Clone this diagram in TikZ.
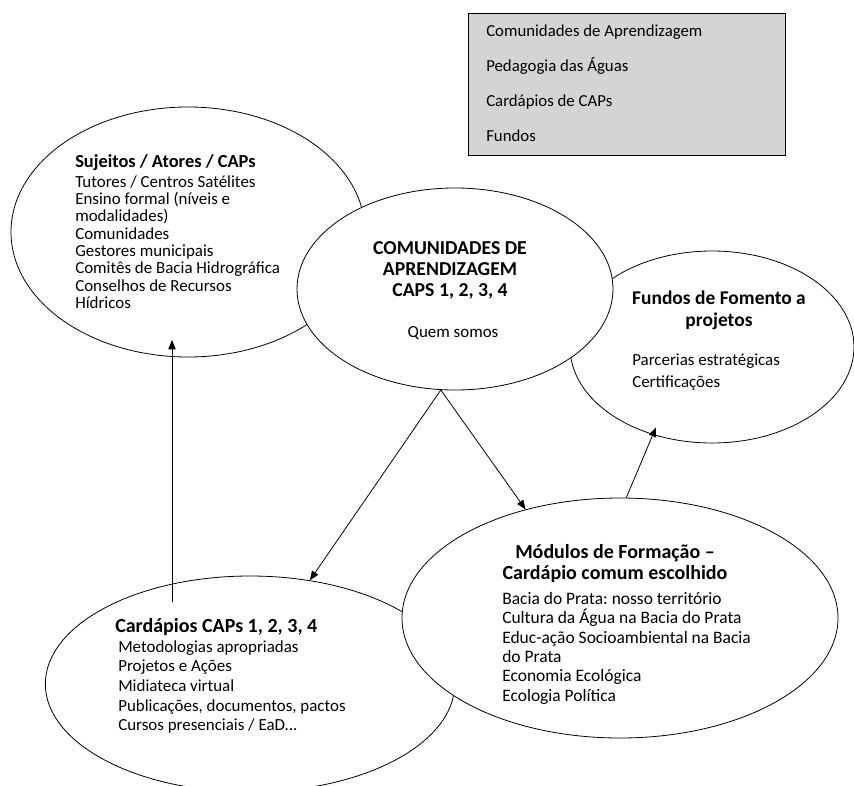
\documentclass[tikz,border=0pt]{standalone}
\usepackage{fontspec}
\setmainfont{Carlito}
\usepackage{tikz}
\usetikzlibrary{shapes.geometric,arrows.meta,calc}
\usepackage{xcolor}
\definecolor{boxgray}{RGB}{212,212,215}
\frenchspacing

\begin{document}
\begin{tikzpicture}[x=0.75pt,y=-0.75pt,
  bubble/.style={ellipse,draw,fill=white,inner sep=0pt,line width=0.6pt},
  head/.style={font=\fontsize{14.8}{15.75}\selectfont\bfseries,inner sep=0pt},
  items/.style={font=\fontsize{12.7}{13}\selectfont,inner sep=0pt,align=left},
  arr/.style={-{Triangle[length=7pt,width=5.5pt]},line width=0.6pt}]
\useasboundingbox (0,0) rectangle (854,786);
\node[draw,fill=boxgray,line width=0.8pt,anchor=north west,minimum width=237.75pt,minimum height=106.5pt] (legend) at (468,13) {};
\node[items,font=\fontsize{12.6}{26.25}\selectfont,anchor=north west] (legtxt) at (486,25) {Comunidades de Aprendizagem\\Pedagogia das Águas\\Cardápios de CAPs\\Fundos};
\node[bubble,minimum width=265.5pt,minimum height=187.5pt] (suj) at (188,232) {};
\node[bubble,minimum width=213pt,minimum height=144pt] (fund) at (712,347) {};
\node[bubble,minimum width=237pt,minimum height=151.5pt] (comu) at (455,289) {};
\node[bubble,minimum width=307pt,minimum height=162pt] (card) at (250,684) {};
\node[bubble,minimum width=327pt,minimum height=180pt] (mod) at (620,618) {};
\node[head,font=\fontsize{13.8}{15}\selectfont\bfseries,anchor=base west] (sujhead) at (75,167) {Sujeitos / Atores / CAPs};
\node[items,anchor=north west] (sujlist) at (75,175) {Tutores / Centros Satélites\\Ensino formal (níveis e\\modalidades)\\Comunidades\\Gestores municipais\\Comitês de Bacia Hidrográfica\\Conselhos de Recursos\\Hídricos};
\node[head,align=center,anchor=north] (comuhead) at (450,241) {COMUNIDADES DE\\APRENDIZAGEM\\CAPS 1, 2, 3, 4};
\node[items,anchor=base] (comutxt) at (453,337) {Quem somos};
\node[head,font=\fontsize{14.6}{16.5}\selectfont\bfseries,align=center,anchor=north] (fundhead) at (719,291) {Fundos de Fomento a\\projetos};
\node[items,font=\fontsize{12.7}{16.3}\selectfont,anchor=north west] (fundlist) at (632,354) {Parcerias estratégicas\\Certificações};
\node[head,font=\fontsize{15}{15.75}\selectfont\bfseries,align=center,anchor=north] (modhead) at (615,544) {Módulos de Formação --\\Cardápio comum escolhido};
\node[items,font=\fontsize{13.1}{14.5}\selectfont,anchor=north west] (modlist) at (502,592) {Bacia do Prata: nosso território\\Cultura da Água na Bacia do Prata\\Educ-ação Socioambiental na Bacia\\do Prata\\Economia Ecológica\\Ecologia Política};
\node[head,font=\fontsize{15}{16}\selectfont\bfseries,anchor=base west] (cardhead) at (115,632) {Cardápios CAPs 1, 2, 3, 4};
\node[items,font=\fontsize{12.7}{14.8}\selectfont,anchor=north west] (cardlist) at (118,640) {Metodologias apropriadas\\Projetos e Ações\\Midiateca virtual\\Publicações, documentos, pactos\\Cursos presenciais / EaD...};
\draw[arr] (comu.262) -- (card.60);
\draw[arr] (comu.262) -- (mod.131);
\draw[arr,shorten >=-6pt] (mod.87) -- (fund.236);
\draw[arr] ($(card.center)+(-78,-82)$) -- ($(suj.center)+(-16,108)$);
\end{tikzpicture}
\end{document}
